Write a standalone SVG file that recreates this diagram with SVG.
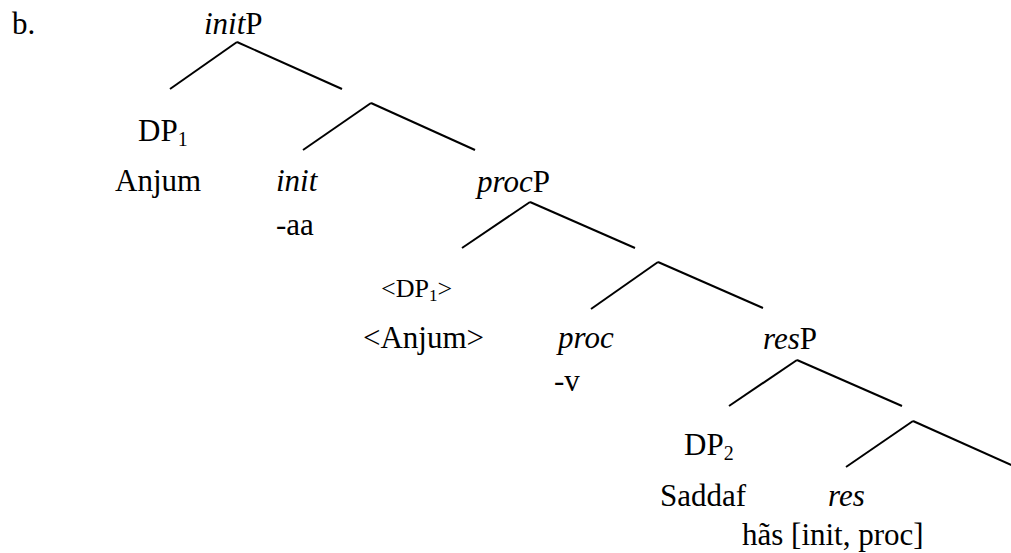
<svg xmlns="http://www.w3.org/2000/svg" width="1011" height="553" viewBox="0 0 1011 553">
<style>
.i{font-style:italic}
.c line{stroke:#000;stroke-width:2;stroke-linecap:butt}
</style>
<rect width="1011" height="553" fill="#fff"/>
<g id="label"><text x="12" y="34" font-family="Liberation Serif" font-size="31">b.</text></g>
<g class="c" id="connectors">
<line x1="237" y1="42" x2="170" y2="89"/>
<line x1="237" y1="42" x2="342" y2="89"/>
<line x1="371" y1="103" x2="303" y2="150"/>
<line x1="371" y1="103" x2="475" y2="150"/>
<line x1="530" y1="202" x2="462" y2="248"/>
<line x1="530" y1="202" x2="635" y2="248"/>
<line x1="658" y1="262" x2="591" y2="309"/>
<line x1="658" y1="262" x2="763" y2="308"/>
<line x1="797" y1="360" x2="729" y2="406"/>
<line x1="797" y1="360" x2="902" y2="406"/>
<line x1="913" y1="421" x2="846" y2="467"/>
<line x1="913" y1="421" x2="1020" y2="469"/>
</g>
<g id="initP"><text x="204" y="34" font-family="Liberation Serif" font-size="31"><tspan font-style="italic">init</tspan>P</text></g>
<g id="DP1"><text x="138" y="141" font-family="Liberation Serif" font-size="31">DP<tspan font-size="20" dy="5">1</tspan></text><text x="115" y="191" font-family="Liberation Serif" font-size="31">Anjum</text></g>
<g id="init"><text x="276" y="191" font-family="Liberation Serif" font-size="31" font-style="italic">init</text><text x="276" y="235" font-family="Liberation Serif" font-size="31">-aa</text></g>
<g id="procP"><text x="477" y="192" font-family="Liberation Serif" font-size="31"><tspan font-style="italic">proc</tspan>P</text></g>
<g id="DP1-copy"><text x="381" y="297" font-family="Liberation Serif" font-size="26">&lt;DP<tspan font-size="17" dy="4">1</tspan><tspan dy="-4">&gt;</tspan></text><text x="363" y="348" font-family="Liberation Serif" font-size="31">&lt;Anjum&gt;</text></g>
<g id="proc"><text x="558" y="348" font-family="Liberation Serif" font-size="31" font-style="italic">proc</text><text x="554" y="391" font-family="Liberation Serif" font-size="31">-v</text></g>
<g id="resP"><text x="763" y="349" font-family="Liberation Serif" font-size="31"><tspan font-style="italic">res</tspan>P</text></g>
<g id="DP2"><text x="684" y="455" font-family="Liberation Serif" font-size="31">DP<tspan font-size="20" dy="5">2</tspan></text><text x="660" y="506" font-family="Liberation Serif" font-size="31">Saddaf</text></g>
<g id="res"><text x="828" y="506" font-family="Liberation Serif" font-size="31" font-style="italic">res</text><text x="742" y="545" font-family="Liberation Serif" font-size="31">hãs [init, proc]</text></g>
</svg>
